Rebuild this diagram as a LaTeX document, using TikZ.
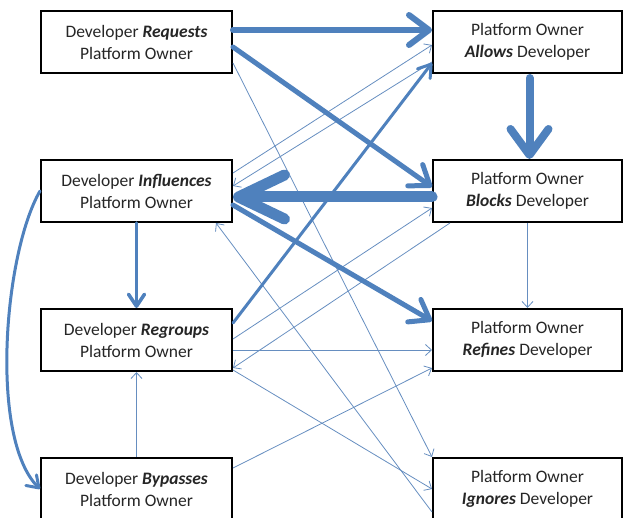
\documentclass[tikz,border=0pt]{standalone}
\usepackage{fontspec}
\setmainfont{Carlito}
\usetikzlibrary{positioning,arrows.meta}

\definecolor{flowblue}{RGB}{79,129,189}
\definecolor{linkblue}{RGB}{102,142,192}

\newcommand{\act}[1]{\textbf{\textit{#1}}}

\begin{document}
\begin{tikzpicture}
[x=1pt,y=1pt,
 box/.style={shape=rectangle,draw,line width=2pt,fill=white,text=black!85,
   minimum width=191pt,minimum height=62pt,inner sep=2pt,align=center,
   font=\fontsize{17.5}{22}\selectfont},
 owner/.style={box,minimum width=189pt},
 link/.style={draw=linkblue,line width=0.8pt,-{Straight Barb[length=6pt,width=11pt]}},
 flow/.style n args={3}{draw=flowblue,line cap=round,line width=#1,
   -{Straight Barb[round,length=#2,width=#3]}},
 node distance=85pt and 199pt]
\useasboundingbox (0,0) rectangle (623,-518);

% developer moves on the left, owner answers on the right
\node[box] (requests) at (136.5,-42) {Developer \act{Requests}\\Platform Owner};
\node[box] (influences) [below=of requests] {Developer \act{Influences}\\Platform Owner};
\node[box] (regroups) [below=of influences] {Developer \act{Regroups}\\Platform Owner};
\node[box] (bypasses) [below=of regroups] {Developer \act{Bypasses}\\Platform Owner};
\node[owner] (allows) [right=of requests] {Platform Owner\\\act{Allows} Developer};
\node[owner] (blocks) [below=of allows] {Platform Owner\\\act{Blocks} Developer};
\node[owner] (refines) [below=of blocks] {Platform Owner\\\act{Refines} Developer};
\node[owner] (ignores) [below=of refines] {Platform Owner\\\act{Ignores} Developer};

% rare transitions
\draw[link] ([yshift=-21pt]requests.east) to (ignores.north west);
\draw[link] ([yshift=18pt]influences.east) to ([yshift=-3pt]allows.west);
\draw[link] ([yshift=-20pt]allows.west) to ([yshift=5pt]influences.east);
\draw[link] ([yshift=1pt]regroups.east) to ([yshift=-17pt]blocks.west);
\draw[link] ([xshift=18pt]blocks.south west) to ([yshift=-28pt]regroups.east);
\draw[link] ([yshift=-10pt]regroups.east) to ([yshift=-10pt]refines.west);
\draw[link] ([yshift=-30pt]regroups.east) to (ignores.west);
\draw[link] ([yshift=-23pt]ignores.west) to ([xshift=-17pt]influences.south east);
\draw[link] (bypasses.north) to (regroups.south);
\draw[link] ([yshift=21pt]bypasses.east) to ([yshift=-28pt]refines.west);
\draw[link] (blocks.south) to (refines.north);

% frequent transitions
\draw[flow={6pt}{20pt}{30pt}] ([yshift=12pt]requests.east) to ([yshift=12pt]allows.west);
\draw[flow={5pt}{18pt}{26pt}] ([yshift=-5pt]requests.east) to ([yshift=4pt]blocks.west);
\draw[flow={8pt}{26pt}{38pt}] ([xshift=2pt,yshift=-4pt]allows.south) to ([xshift=2pt]blocks.north);
\draw[flow={11pt}{46pt}{44pt}] ([yshift=-6pt]blocks.west) to ([yshift=-6pt]influences.east);
\draw[flow={5pt}{18pt}{26pt}] ([yshift=-14pt]influences.east) to ([yshift=19pt]refines.west);
\draw[flow={3.5pt}{12pt}{16pt}] (influences.south) to (regroups.north);
\draw[flow={3pt}{12pt}{16pt}] ([yshift=17pt]regroups.east) to ([yshift=-21pt]allows.west);
\draw[flow={3pt}{11pt}{15pt}] (influences.west) to[out=240,in=135,looseness=0.62] (bypasses.west);
\end{tikzpicture}
\end{document}
